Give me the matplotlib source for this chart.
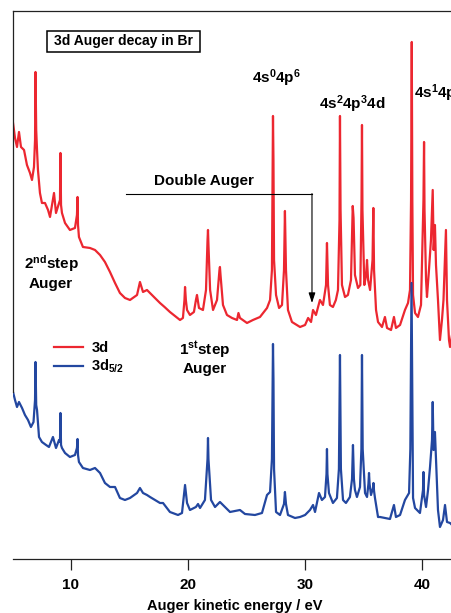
import matplotlib
matplotlib.use('Agg')
import matplotlib.pyplot as plt
from matplotlib.patches import Rectangle

plt.rcParams['font.family'] = 'Liberation Sans'
plt.rcParams['font.weight'] = 'bold'
plt.rcParams['axes.labelweight'] = 'bold'
plt.rcParams['mathtext.default'] = 'regular'

# ---------------------------------------------------------
# spectra (energy in eV, intensity arb. units,
# 3d trace drawn above the 3d5/2 trace)

energy_3d = [5.05, 5.22, 5.39, 5.56, 5.73, 5.99, 6.24, 6.50, 6.67, 6.84,
	6.93, 6.97, 7.03, 7.10, 7.18, 7.35, 7.52, 7.78, 8.04, 8.21,
	8.55, 8.72, 8.98, 9.06, 9.10, 9.15, 9.23, 9.49, 9.91, 10.34,
	10.51, 10.56, 10.60, 10.68, 11.02, 11.62, 12.05, 12.48, 12.90, 13.33,
	13.76, 14.18, 14.61, 15.04, 15.64, 15.89, 16.15, 16.49, 16.75, 17.17,
	17.60, 17.99, 18.45, 18.88, 19.31, 19.56, 19.69, 19.74, 19.81, 19.91,
	20.16, 20.50, 20.67, 20.76, 20.93, 21.27, 21.53, 21.66, 21.70, 21.74,
	21.88, 22.13, 22.47, 22.68, 22.72, 22.77, 22.98, 23.32, 23.75, 24.18,
	24.30, 24.43, 25.03, 25.54, 26.14, 26.74, 27.00, 27.16, 27.22, 27.25,
	27.29, 27.34, 27.51, 27.77, 28.02, 28.19, 28.27, 28.36, 28.53, 28.87,
	29.56, 29.99, 30.25, 30.50, 30.67, 30.92, 31.26, 31.52, 31.78, 31.86,
	31.95, 32.11, 32.37, 32.62, 32.80, 32.93, 32.97, 33.02, 33.14, 33.40,
	33.65, 33.91, 34.06, 34.13, 34.25, 34.51, 34.71, 34.81, 34.85, 34.89,
	35.05, 35.20, 35.28, 35.37, 35.54, 35.75, 35.82, 35.88, 36.05, 36.22,
	36.56, 36.81, 36.99, 37.33, 37.58, 37.75, 38.10, 38.52, 38.78, 38.95,
	39.04, 39.10, 39.15, 39.21, 39.38, 39.63, 39.89, 40.10, 40.15, 40.19,
	40.32, 40.40, 40.57, 40.74, 40.89, 40.97, 41.08, 41.17, 41.34, 41.51,
	41.68, 41.81, 42.02, 42.11, 42.28, 42.37, 42.54, 42.80, 43.00]
counts_3d = [436, 421, 412, 427, 412, 409, 394, 386, 379, 392,
	419, 487, 429, 409, 389, 366, 356, 356, 349, 342,
	366, 346, 356, 359, 406, 354, 346, 336, 329, 331,
	344, 362, 334, 322, 312, 311, 309, 304, 297, 287,
	276, 266, 261, 259, 264, 277, 267, 269, 266, 261,
	256, 252, 247, 243, 239, 241, 259, 272, 259, 249,
	244, 247, 259, 264, 251, 249, 269, 319, 329, 314,
	269, 249, 259, 289, 292, 284, 254, 244, 241, 239,
	246, 241, 236, 239, 242, 251, 259, 289, 399, 443,
	399, 299, 264, 251, 254, 289, 348, 289, 249, 237,
	232, 234, 241, 237, 249, 244, 259, 254, 274, 316,
	274, 254, 252, 259, 269, 339, 443, 349, 274, 262,
	264, 279, 353, 341, 284, 271, 274, 359, 434, 349,
	274, 284, 299, 279, 269, 299, 351, 289, 249, 237,
	232, 242, 231, 229, 242, 231, 234, 249, 256, 269,
	359, 517, 359, 264, 246, 242, 254, 359, 417, 349,
	279, 262, 289, 319, 369, 309, 334, 294, 259, 219,
	239, 259, 329, 259, 219, 212, 224, 215, 220]

energy_3d52 = [5.05, 5.22, 5.39, 5.56, 5.82, 6.07, 6.33, 6.58, 6.80, 6.93,
	6.97, 7.03, 7.10, 7.27, 7.52, 7.87, 8.12, 8.46, 8.72, 8.98,
	9.06, 9.10, 9.15, 9.23, 9.49, 9.91, 10.34, 10.51, 10.56, 10.60,
	10.68, 11.02, 11.62, 12.05, 12.48, 12.90, 13.33, 13.76, 14.18, 14.61,
	15.04, 15.64, 15.89, 16.15, 16.49, 16.75, 17.60, 17.86, 18.45, 19.14,
	19.48, 19.74, 19.91, 20.16, 20.67, 20.85, 21.02, 21.44, 21.66, 21.70,
	21.74, 21.96, 22.30, 22.72, 22.98, 23.58, 24.43, 24.86, 25.71, 26.31,
	26.74, 27.00, 27.16, 27.22, 27.25, 27.29, 27.34, 27.51, 27.85, 28.19,
	28.27, 28.36, 28.53, 29.13, 29.56, 29.99, 30.41, 30.67, 30.84, 31.18,
	31.43, 31.69, 31.82, 31.86, 31.90, 32.03, 32.37, 32.71, 32.88, 32.97,
	33.05, 33.23, 33.48, 33.82, 34.00, 34.08, 34.16, 34.25, 34.42, 34.68,
	34.80, 34.85, 34.91, 35.11, 35.28, 35.40, 35.45, 35.50, 35.62, 35.79,
	35.83, 35.88, 35.96, 36.22, 36.39, 36.81, 37.24, 37.58, 37.75, 38.10,
	38.52, 38.87, 38.98, 39.08, 39.18, 39.21, 39.38, 39.80, 40.06, 40.10,
	40.15, 40.32, 40.49, 40.66, 40.83, 40.89, 40.96, 41.08, 41.17, 41.34,
	41.51, 41.77, 41.94, 42.11, 42.37, 42.54, 43.00]
counts_3d52 = [167, 159, 152, 157, 151, 144, 139, 132, 137, 159,
	197, 154, 149, 122, 117, 114, 112, 122, 111, 119,
	117, 146, 114, 111, 106, 102, 104, 111, 120, 104,
	97, 91, 89, 91, 86, 76, 72, 72, 61, 59,
	61, 66, 71, 66, 64, 62, 56, 56, 47, 44,
	46, 74, 56, 49, 52, 55, 51, 59, 100, 121,
	100, 59, 52, 57, 54, 47, 49, 45, 44, 46,
	64, 67, 100, 180, 215, 180, 90, 47, 44, 55,
	67, 55, 44, 41, 42, 44, 49, 54, 47, 66,
	59, 62, 85, 110, 85, 66, 56, 61, 90, 204,
	90, 59, 56, 62, 80, 114, 80, 69, 62, 72,
	110, 204, 110, 66, 62, 75, 86, 75, 64, 71,
	76, 68, 61, 42, 42, 41, 40, 54, 42, 44,
	59, 66, 110, 276, 110, 61, 51, 46, 69, 87,
	64, 52, 69, 92, 119, 157, 109, 127, 99, 49,
	32, 39, 54, 37, 36, 34, 36]

tick_energies = [10, 20, 30, 40]

red = '#ec2730'
blue = '#2347a0'

#----------------------------------------------------------

fig = plt.figure(figsize=(4.52, 6.13), dpi=100)
ax = fig.add_axes([0.0288, 0.0881, 0.9832, 0.8940])

l1, = ax.plot(energy_3d, counts_3d, color=red, lw=1.6, label='3d')
l2, = ax.plot(energy_3d52, counts_3d52, color=blue, lw=1.6,
	label='3d$_{5/2}$')

ax.set_xlim(5.05, 43.0)
ax.set_ylim(0, 548)
ax.set_yticks([])
ax.set_xticks(tick_energies)
ax.tick_params(axis='x', direction='out', length=8, width=0.9,
	labelsize=11, pad=6, color='#222222')
ax.spines['right'].set_visible(False)
ax.spines['left'].set_bounds(167, 548)
for s in ['left', 'top', 'bottom']:
	ax.spines[s].set_linewidth(0.9)
	ax.spines[s].set_color('#222222')
ax.set_xlabel('Auger kinetic energy / eV', fontsize=10.5, labelpad=5)

# title box
ax.add_patch(Rectangle((7.95, 507), 13.07, 21, facecolor='white',
	edgecolor='black', lw=1.1, zorder=3))
ax.text(14.48, 517.5, '3d Auger decay in Br', fontsize=10,
	ha='center', va='center', zorder=4)

# configuration labels
ax.text(27.51, 476, '4s$^0$4p$^6$', fontsize=11, ha='center', va='baseline')
ax.text(34.0, 450, '4s$^2$4p$^3$4d', fontsize=11, ha='center', va='baseline')
ax.text(39.29, 461, '4s$^1$4p$^5$', fontsize=11, ha='left', va='baseline')

ax.text(21.36, 374, 'Double Auger', fontsize=11, ha='center', va='baseline')
ax.plot([14.70, 30.58], [365, 365], color='black', lw=0.8)
ax.annotate('', xy=(30.58, 256), xytext=(30.58, 365.4),
	arrowprops=dict(arrowstyle='-|>,head_length=0.6,head_width=0.2',
		color='black', lw=0.8, shrinkA=0, shrinkB=0))

ax.text(8.29, 287, '2$^{nd}$step\nAuger', fontsize=11, ha='center',
	va='center', multialignment='center')
ax.text(21.45, 201, '1$^{st}$step\nAuger', fontsize=11, ha='center',
	va='center', multialignment='center')

ax.legend(handles=[l1, l2], loc='upper left', bbox_to_anchor=(0.0923, 0.397),
	frameon=False, fontsize=10.5, handlelength=2.0, handletextpad=0.55,
	labelspacing=0.15, borderpad=0, borderaxespad=0)

fig.savefig('out.png', dpi=100)
